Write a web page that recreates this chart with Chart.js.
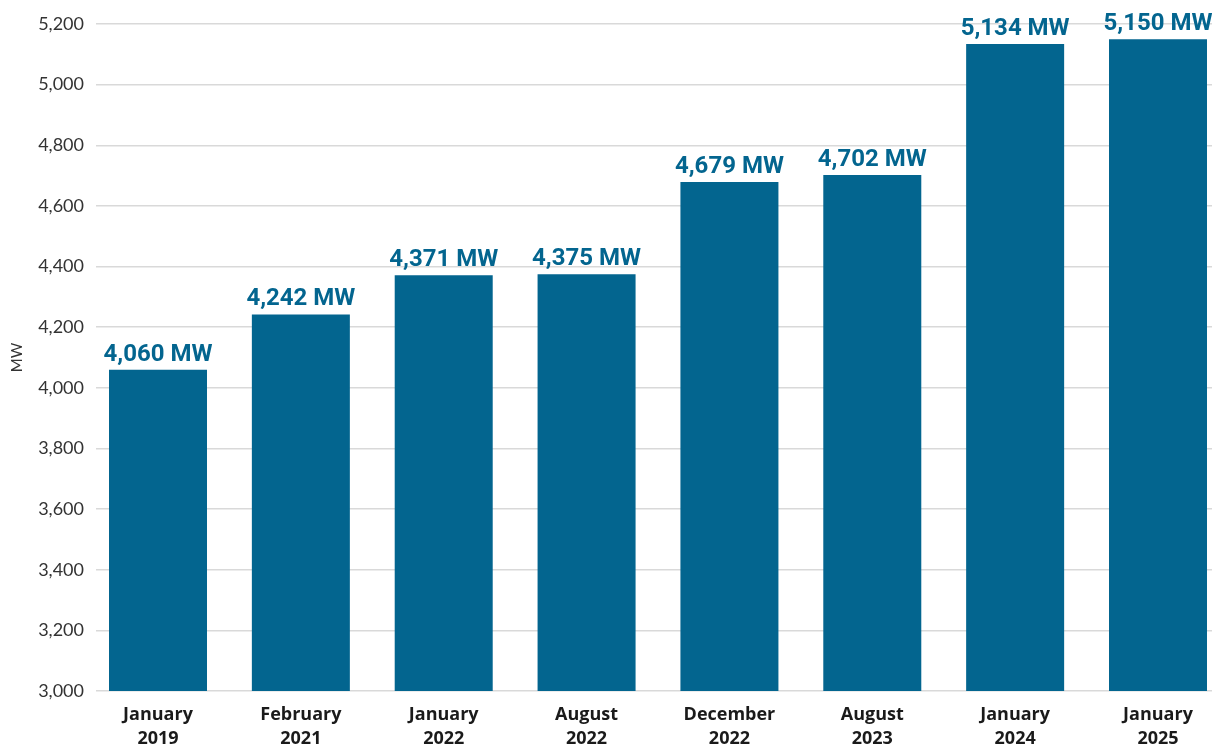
<!DOCTYPE html>
<html>
<head>
<meta charset="utf-8">
<script src="https://cdn.jsdelivr.net/npm/chart.js@4"></script>
<style>
  html, body { margin: 0; padding: 0; background: #fff; }
  #wrap { width: 1212px; height: 746px; }
</style>
</head>
<body>
<div id="wrap"><canvas id="mw-chart" width="1212" height="746"></canvas></div>
<script>
"use strict";

const months = ["January", "February", "January", "August", "December", "August", "January", "January"];
const years = ["2019", "2021", "2022", "2022", "2022", "2023", "2024", "2025"];
const capacityMW = [4060, 4242, 4371, 4375, 4679, 4702, 5134, 5150];
const yTicks = [3000, 3200, 3400, 3600, 3800, 4000, 4200, 4400, 4600, 4800, 5000, 5200];

const BLUE = "#03658f";

// value labels over each bar
const barLabels = {
  id: "barLabels",
  afterDatasetsDraw(chart) {
    const { ctx } = chart;
    const meta = chart.getDatasetMeta(0);
    ctx.save();
    ctx.font = "bold 24px Roboto";
    ctx.fillStyle = BLUE;
    ctx.textAlign = "center";
    ctx.textBaseline = "alphabetic";
    meta.data.forEach((bar, i) => {
      const text = capacityMW[i].toLocaleString("en-US") + " MW";
      ctx.fillText(text, bar.x, bar.y - 9);
    });
    ctx.restore();
  },
};

(() => {
  const ctx = document.getElementById("mw-chart").getContext("2d");

  new Chart(ctx, {
    type: "bar",
    data: {
      datasets: [
        {
          label: "MW",
          data: capacityMW.map((v, i) => ({ x: i, y: v })),
          backgroundColor: BLUE,
          borderWidth: 0,
          barPercentage: 0.686,
          categoryPercentage: 1,
        },
      ],
    },
    options: {
      responsive: false,
      animation: false,
      layout: { padding: { top: 24, right: 0, left: 0, bottom: 0 } },
      plugins: {
        legend: { display: false },
        tooltip: { enabled: false },
      },
      scales: {
        x: {
          type: "linear",
          min: -0.434,
          max: 7.378,
          offset: false,
          grid: { display: false, offset: false },
          border: { display: false },
          afterBuildTicks: (scale) => {
            scale.ticks = months.map((m, i) => ({ value: i }));
          },
          afterFit: (scale) => {
            scale.height = 55;
          },
          ticks: {
            autoSkip: false,
            maxRotation: 0,
            padding: 4,
            color: "#1a1a1a",
            font: { family: "'Open Sans'", size: 18, weight: "bold", lineHeight: 1.33 },
            callback: (v) => [months[v], years[v]],
          },
        },
        y: {
          min: 3000,
          max: 5200,
          afterBuildTicks: (scale) => {
            scale.ticks = yTicks.map((v) => ({ value: v }));
          },
          afterFit: (scale) => {
            scale.width = 96;
          },
          grid: { color: "#d9d9d9", lineWidth: 1.5, drawTicks: false },
          border: { display: false },
          title: {
            display: true,
            text: "MW",
            color: "#333",
            font: { family: "Lato", size: 15 },
            padding: { top: 8, bottom: 0 },
          },
          ticks: {
            padding: 12,
            color: "#333",
            font: { family: "Lato", size: 18 },
            callback: (v) => v.toLocaleString("en-US"),
          },
        },
      },
    },
    plugins: [barLabels],
  });
})();
</script>
</body>
</html>
